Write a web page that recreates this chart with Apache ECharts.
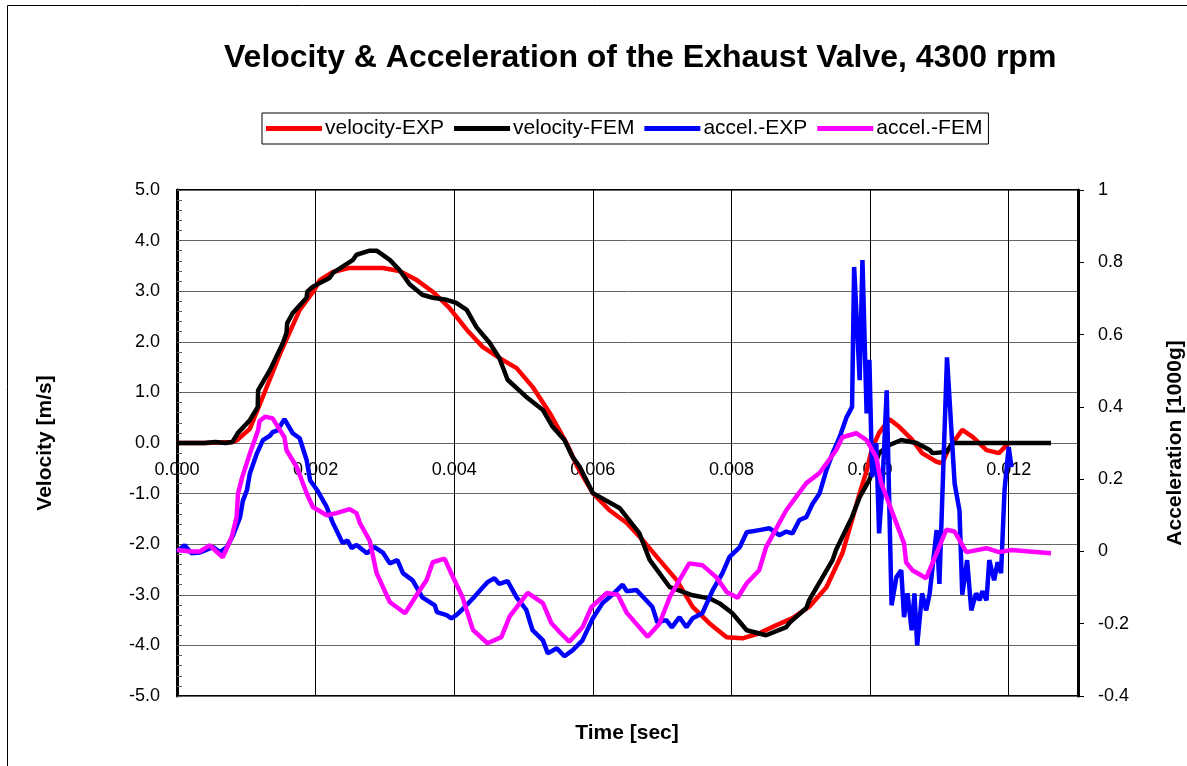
<!DOCTYPE html>
<html>
<head>
<meta charset="utf-8">
<script src="https://cdn.jsdelivr.net/npm/echarts@6/dist/echarts.min.js"></script>
<style>
html,body{margin:0;padding:0;background:#fff;}
#c{width:1187px;height:766px;}
</style>
</head>
<body>
<div id="c"></div>
<script>
// ---- data (time in seconds) ----
var titleText = 'Velocity & Acceleration of the Exhaust Valve, 4300 rpm';
var seriesNames = ['velocity-EXP', 'velocity-FEM', 'accel.-EXP', 'accel.-FEM'];
var xTickLabels = ['0.000', '0.002', '0.004', '0.006', '0.008', '0.010', '0.012'];

var velocityExp = [
[0,0],[0.0004,0],[0.0008,0.02],[0.00086,0.05],[0.00105,0.28],[0.00122,0.85],[0.00148,1.74],[0.00177,2.63],[0.00197,3.0],
[0.00206,3.22],[0.00225,3.38],[0.00249,3.46],[0.00297,3.46],[0.00321,3.40],[0.00346,3.22],[0.00369,2.99],[0.00393,2.67],
[0.00418,2.24],[0.00441,1.90],[0.00465,1.68],[0.0049,1.48],[0.00513,1.11],[0.00538,0.59],[0.00562,0.0],[0.00577,-0.45],
[0.006,-0.99],[0.00624,-1.33],[0.00649,-1.58],[0.00672,-1.92],[0.00696,-2.31],[0.00721,-2.71],[0.00744,-3.24],[0.00768,-3.56],
[0.00793,-3.84],[0.00816,-3.86],[0.0084,-3.76],[0.00865,-3.60],[0.00888,-3.46],[0.00912,-3.24],[0.00937,-2.85],[0.0096,-2.18],
[0.00974,-1.52],[0.00985,-0.99],[0.00995,-0.55],[0.01003,-0.1],[0.01013,0.2],[0.01028,0.47],[0.01042,0.32],[0.01061,0.06],
[0.01075,-0.2],[0.01096,-0.37],[0.01104,-0.40],[0.01114,-0.1],[0.01133,0.26],[0.01148,0.12],[0.01168,-0.14],[0.01186,-0.2],[0.012,0.0]
];

var velocityFem = [
[0,0],[0.0004,0],[0.00055,0.02],[0.0007,0.0],[0.0008,0.02],[0.00088,0.2],[0.00105,0.45],[0.001165,0.71],[0.00117,1.04],
[0.00134,1.44],[0.00153,1.98],[0.00158,2.18],[0.00159,2.37],[0.00167,2.57],[0.00187,2.87],[0.00188,2.99],[0.00196,3.09],
[0.00206,3.16],[0.0022,3.26],[0.00225,3.36],[0.00254,3.62],[0.00259,3.72],[0.00278,3.80],[0.00288,3.80],[0.00307,3.62],
[0.00321,3.42],[0.00336,3.13],[0.00354,2.93],[0.00369,2.87],[0.00389,2.83],[0.00403,2.77],[0.00418,2.63],[0.00432,2.29],
[0.00451,1.98],[0.00465,1.68],[0.00477,1.25],[0.00504,0.91],[0.00528,0.65],[0.00542,0.32],[0.00559,0.06],[0.00571,-0.28],
[0.00581,-0.47],[0.006,-0.99],[0.00639,-1.29],[0.00667,-1.78],[0.00682,-2.31],[0.00711,-2.85],[0.00744,-3.01],[0.00768,-3.07],
[0.00783,-3.17],[0.00801,-3.36],[0.00822,-3.70],[0.0085,-3.80],[0.00879,-3.64],[0.00884,-3.55],[0.00908,-3.26],[0.00912,-3.11],
[0.00946,-2.31],[0.00951,-2.11],[0.00974,-1.46],[0.00985,-1.07],[0.00999,-0.73],[0.01013,-0.2],[0.01028,-0.04],[0.01045,0.06],
[0.01067,0.0],[0.01086,-0.14],[0.0109,-0.2],[0.0111,-0.18],[0.01119,0.0],[0.01261,0.0]
];

var accelExp = [
[0,0],[0.00011,0.017],[0.00021,-0.005],[0.00033,-0.003],[0.00052,0.012],[0.00062,-0.002],[0.00072,0.012],[0.00081,0.045],
[0.00091,0.095],[0.00095,0.14],[0.00101,0.17],[0.00105,0.215],[0.00115,0.27],[0.00124,0.308],[0.00134,0.32],[0.00138,0.33],
[0.00145,0.335],[0.00155,0.366],[0.00167,0.327],[0.00177,0.313],[0.00187,0.253],[0.00192,0.197],[0.00202,0.17],[0.00216,0.123],
[0.00225,0.078],[0.0023,0.059],[0.00239,0.023],[0.00246,0.03],[0.00252,0.009],[0.00259,0.018],[0.00274,-0.005],[0.00285,0.012],
[0.00297,-0.003],[0.00307,-0.033],[0.00318,-0.024],[0.00326,-0.06],[0.0034,-0.08],[0.00354,-0.127],[0.00372,-0.149],[0.00375,-0.168],
[0.00389,-0.176],[0.00396,-0.185],[0.00403,-0.176],[0.00412,-0.16],[0.00427,-0.13],[0.0044,-0.102],[0.00448,-0.085],[0.00458,-0.074],
[0.00465,-0.09],[0.00477,-0.082],[0.0049,-0.127],[0.00504,-0.162],[0.00513,-0.218],[0.00528,-0.246],[0.00535,-0.282],[0.00548,-0.268],
[0.00559,-0.29],[0.00571,-0.273],[0.00585,-0.246],[0.006,-0.185],[0.00614,-0.143],[0.00628,-0.12],[0.00643,-0.092],[0.00649,-0.11],
[0.00663,-0.107],[0.00677,-0.135],[0.00686,-0.154],[0.00693,-0.196],[0.00706,-0.19],[0.00714,-0.21],[0.00725,-0.182],[0.00735,-0.21],
[0.00744,-0.185],[0.00758,-0.171],[0.00773,-0.107],[0.00787,-0.06],[0.00797,-0.016],[0.00812,0.012],[0.00822,0.053],[0.0084,0.059],
[0.00855,0.064],[0.00869,0.045],[0.00879,0.055],[0.00888,0.05],[0.00898,0.087],[0.00908,0.095],[0.00917,0.132],[0.00927,0.16],
[0.00937,0.225],[0.00946,0.272],[0.00956,0.316],[0.00966,0.371],[0.00974,0.4],[0.00977,0.787],[0.00985,0.474],[0.00989,0.806],
[0.00995,0.382],[0.00999,0.53],[0.01003,0.206],[0.01009,0.3],[0.01013,0.05],[0.01018,0.188],[0.01024,0.446],[0.01031,-0.149],
[0.01038,-0.071],[0.01045,-0.052],[0.01049,-0.182],[0.01054,-0.116],[0.0106,-0.218],[0.01064,-0.116],[0.01068,-0.26],[0.01075,-0.116],
[0.01081,-0.163],[0.01086,-0.116],[0.01096,0.059],[0.011,-0.09],[0.01111,0.537],[0.01122,0.188],[0.01129,0.113],[0.01133,-0.12],
[0.0114,-0.024],[0.01146,-0.163],[0.01153,-0.116],[0.01158,-0.135],[0.01162,-0.11],[0.01168,-0.135],[0.01172,-0.024],[0.01179,-0.08],
[0.01184,-0.03],[0.01189,-0.06],[0.01194,0.17],[0.012,0.289],[0.01204,0.233]
];

var accelFem = [
[0,0.004],[0.00019,0.0],[0.00033,0.0],[0.00047,0.017],[0.00066,-0.016],[0.00079,0.04],[0.00086,0.095],[0.00088,0.16],[0.00094,0.205],
[0.00105,0.27],[0.00117,0.335],[0.00119,0.36],[0.00127,0.373],[0.00138,0.368],[0.00155,0.316],[0.00158,0.28],[0.00173,0.233],
[0.00187,0.161],[0.00196,0.123],[0.00216,0.10],[0.0023,0.106],[0.00249,0.117],[0.00259,0.106],[0.00264,0.078],[0.00278,0.03],
[0.00288,-0.06],[0.00307,-0.14],[0.00329,-0.171],[0.00346,-0.12],[0.0036,-0.08],[0.00369,-0.03],[0.00386,-0.02],[0.00398,-0.07],
[0.00412,-0.127],[0.00427,-0.217],[0.00448,-0.254],[0.00468,-0.237],[0.0048,-0.18],[0.00506,-0.115],[0.00528,-0.143],[0.0054,-0.198],
[0.00552,-0.223],[0.00566,-0.25],[0.00585,-0.21],[0.00598,-0.154],[0.0062,-0.115],[0.00636,-0.12],[0.00649,-0.17],[0.00679,-0.236],
[0.00696,-0.2],[0.00711,-0.126],[0.00739,-0.033],[0.00758,-0.038],[0.00778,-0.071],[0.00793,-0.112],[0.00809,-0.128],[0.00822,-0.088],
[0.0084,-0.052],[0.0085,0.012],[0.00879,0.114],[0.00908,0.189],[0.00927,0.217],[0.00951,0.28],[0.0096,0.316],[0.0098,0.327],
[0.00995,0.308],[0.01009,0.26],[0.01016,0.19],[0.01038,0.078],[0.01049,0.022],[0.01052,-0.03],[0.01061,-0.052],[0.01081,-0.074],
[0.0111,0.06],[0.01122,0.055],[0.01139,-0.002],[0.01168,0.009],[0.01186,-0.002],[0.01204,0.004],[0.01261,-0.005]
];

var FONT = '"Liberation Sans", Arial, sans-serif';

var chart = echarts.init(document.getElementById('c'), null, {renderer: 'canvas'});

function xFmt(v) {
  var k = v / 0.002;
  if (Math.abs(k - Math.round(k)) > 1e-6) return '';
  var i = Math.round(k);
  return xTickLabels[i] !== undefined ? xTickLabels[i] : '';
}

var GRID_TOP = 190;
// pixel row of velocity = 0 inside the grid (axis crossing), used only to place the tick-label row
var ZERO_ROW = 443;

var option = {
  animation: false,
  backgroundColor: '#ffffff',
  textStyle: {fontFamily: FONT},
  title: {
    text: titleText,
    left: 219, top: 37,
    textStyle: {fontFamily: FONT, fontSize: 32, fontWeight: 'bold', color: '#000'}
  },
  legend: {
    data: seriesNames,
    left: 262, top: 113,
    icon: 'rect',
    itemWidth: 56, itemHeight: 5,
    itemGap: 10,
    padding: [5, 6, 5, 4],
    borderColor: '#000', borderWidth: 1,
    textStyle: {fontFamily: FONT, fontSize: 21, color: '#000', padding: [0,0,0,-2]}
  },
  grid: {
    left: 177, right: 109, top: GRID_TOP, bottom: 70,
    show: true, borderColor: '#000', borderWidth: 2,
    containLabel: false, outerBoundsMode: 'none'
  },
  xAxis: [
    {
      type: 'value', min: 0, max: 0.013, interval: 0.002, position: 'bottom',
      axisLine: {show: false, onZero: false},
      axisTick: {show: false},
      axisLabel: {show: false},
      splitLine: {show: true, lineStyle: {color: '#000', width: 1}}
    },
    {
      type: 'value', min: 0, max: 0.013, interval: 0.002, position: 'top',
      offset: GRID_TOP - ZERO_ROW,
      axisLine: {show: false, onZero: false},
      axisTick: {show: false},
      axisLabel: {inside: true, formatter: xFmt, fontFamily: FONT, fontSize: 18, color: '#000', margin: 18, showMaxLabel: false},
      splitLine: {show: false}
    }
  ],
  yAxis: [
    {
      type: 'value', min: -5, max: 5, interval: 1, position: 'left',
      axisLine: {show: true, onZero: false, lineStyle: {color: '#000', width: 3}},
      axisTick: {show: true, inside: true, length: 5, lineStyle: {color: '#555'}},
      minorTick: {show: true, splitNumber: 5, length: 5, lineStyle: {color: '#666', width: 1}},
      axisLabel: {formatter: function (v) { return v.toFixed(1); }, fontFamily: FONT, fontSize: 18, color: '#000', margin: 17},
      splitLine: {show: true, lineStyle: {color: '#666', width: 1}}
    },
    {
      type: 'value', min: -0.4, max: 1, interval: 0.2, position: 'right',
      axisLine: {show: true, onZero: false, lineStyle: {color: '#000', width: 3}},
      axisTick: {show: true, inside: false, length: 6, lineStyle: {color: '#000'}},
      axisLabel: {
        formatter: function (v) {
          if (Math.abs(v) < 1e-9) return '0';
          if (Math.abs(v - 1) < 1e-9) return '1';
          return v.toFixed(1);
        },
        fontFamily: FONT, fontSize: 18, color: '#000', margin: 20
      },
      splitLine: {show: false}
    }
  ],
  graphic: [
    {type: 'rect', silent: true, shape: {x: 7.5, y: 5.5, width: 1300, height: 900}, style: {fill: 'none', stroke: '#000', lineWidth: 1}},
    {type: 'text', x: 45, y: 443, rotation: Math.PI / 2,
      style: {text: 'Velocity [m/s]', font: 'bold 21px ' + FONT, fill: '#000', textAlign: 'center', textVerticalAlign: 'middle'}},
    {type: 'text', x: 1175, y: 443, rotation: Math.PI / 2,
      style: {text: 'Acceleration [1000g]', font: 'bold 21px ' + FONT, fill: '#000', textAlign: 'center', textVerticalAlign: 'middle'}},
    {type: 'text', x: 627, y: 733,
      style: {text: 'Time [sec]', font: 'bold 21px ' + FONT, fill: '#000', textAlign: 'center', textVerticalAlign: 'middle'}}
  ],
  series: [
    {name: seriesNames[0], type: 'line', data: velocityExp, xAxisIndex: 0, yAxisIndex: 0, showSymbol: false, symbol: 'none',
      lineStyle: {color: '#ff0000', width: 4.5}, itemStyle: {color: '#ff0000'}},
    {name: seriesNames[1], type: 'line', data: velocityFem, xAxisIndex: 0, yAxisIndex: 0, showSymbol: false, symbol: 'none',
      lineStyle: {color: '#000000', width: 4.5}, itemStyle: {color: '#000000'}},
    {name: seriesNames[2], type: 'line', data: accelExp, xAxisIndex: 0, yAxisIndex: 1, showSymbol: false, symbol: 'none',
      lineStyle: {color: '#0000ff', width: 4.5}, itemStyle: {color: '#0000ff'}},
    {name: seriesNames[3], type: 'line', data: accelFem, xAxisIndex: 0, yAxisIndex: 1, showSymbol: false, symbol: 'none',
      lineStyle: {color: '#ff00ff', width: 4.5}, itemStyle: {color: '#ff00ff'}}
  ]
};
chart.setOption(option);
</script>
</body>
</html>
